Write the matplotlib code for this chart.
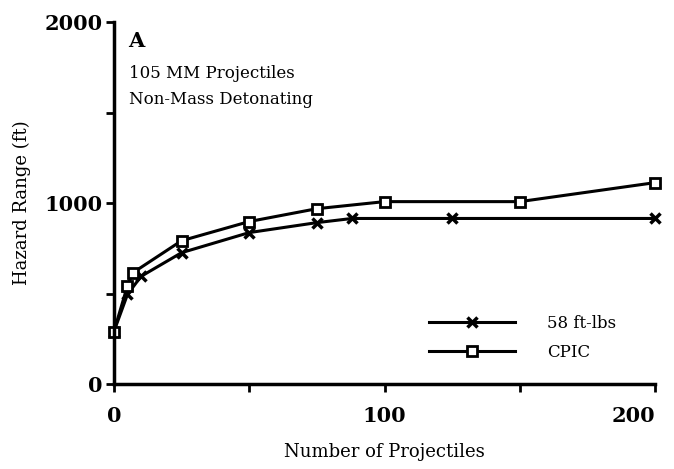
import numpy as np
import matplotlib.pyplot as plt

# data
n_58 = [0, 5, 10, 25, 50, 75, 88, 125, 200]
range_58 = [290, 495, 595, 726, 837, 892, 915, 915, 915]
n_cpic = [0, 5, 7, 25, 50, 75, 100, 150, 200]
range_cpic = [290, 543, 615, 792, 898, 969, 1008, 1008, 1113]

plt.rcParams['font.family'] = 'DejaVu Serif'

fig = plt.figure(figsize=(6.74, 4.69), dpi=100)
ax = fig.add_axes([0.169, 0.181, 0.803, 0.772])

ax.plot(n_58, range_58, color='black', lw=2.2, marker='x', ms=7, mew=2.5,
        label='58 ft-lbs', clip_on=False)
ax.plot(n_cpic, range_cpic, color='black', lw=2.2, marker='s', ms=7.5, mew=2,
        mfc='white', label='CPIC', clip_on=False)

ax.set_xlim(0, 200)
ax.set_ylim(0, 2000)
ax.set_xticks([0, 100, 200])
ax.set_xticks([50, 150], minor=True)
ax.set_yticks([0, 1000, 2000])
ax.set_yticks([500, 1500], minor=True)
ax.tick_params(which='both', direction='out', length=6, width=2, labelsize=15)
ax.tick_params(axis='x', pad=10)
ax.tick_params(axis='y', pad=2)
for lab in ax.get_xticklabels() + ax.get_yticklabels():
    lab.set_fontweight('bold')
ax.get_xticklabels()[-1].set_horizontalalignment('right')

for s in ['top', 'right']:
    ax.spines[s].set_visible(False)
for s in ['left', 'bottom']:
    ax.spines[s].set_linewidth(2.5)

ax.set_xlabel('Number of Projectiles', fontsize=13, labelpad=12)
ax.set_ylabel('Hazard Range (ft)', fontsize=13, labelpad=10)

ax.text(0.027, 0.975, 'A', transform=ax.transAxes, fontsize=15,
        fontweight='bold', va='top')
ax.text(0.027, 0.88, '105 MM Projectiles\nNon-Mass Detonating',
        transform=ax.transAxes, fontsize=12, va='top', linespacing=1.65)

leg = ax.legend(loc='lower right', bbox_to_anchor=(0.94, 0.045), frameon=False,
                fontsize=12, handlelength=5.2, handletextpad=1.9,
                labelspacing=0.75, borderaxespad=0)

fig.savefig('out.png', dpi=100)
